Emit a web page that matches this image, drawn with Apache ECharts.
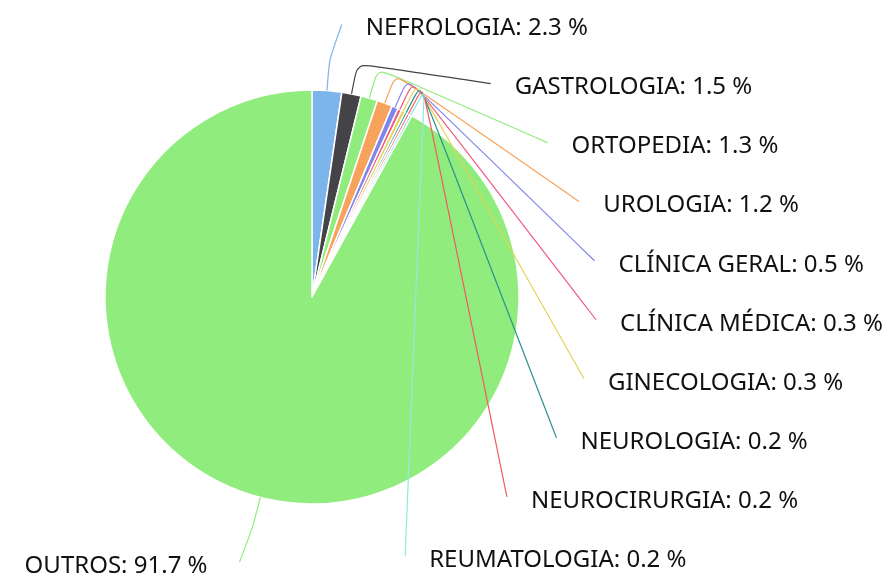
<!DOCTYPE html>
<html><head><meta charset="utf-8">
<script src="https://cdn.jsdelivr.net/npm/echarts@6/dist/echarts.min.js"></script>
<style>html,body{margin:0;padding:0;background:#fff}#chart{width:893px;height:576px}</style>
</head><body><div id="chart"></div>
<script>
const categories = ['NEFROLOGIA','GASTROLOGIA','ORTOPEDIA','UROLOGIA','CLÍNICA GERAL','CLÍNICA MÉDICA','GINECOLOGIA','NEUROLOGIA','NEUROCIRURGIA','REUMATOLOGIA','OUTROS'];
const values = [2.3, 1.5, 1.3, 1.2, 0.5, 0.3, 0.3, 0.2, 0.2, 0.2, 91.7];
const palette = ['#7cb5ec','#434348','#90ed7d','#f7a35c','#8085e9','#f15c80','#e4d354','#2b908f','#f45b5b','#91e8e1','#90ed7d'];

// layout constants
const CX = 312, CY = 297, R = 207;
const LABEL_A = 285, LABEL_B = 274, BREAK = 31;
const TOP_Y = 28.5, SLOT = 59.05, BOTTOM_Y = 566;
const GAP_R = 24, GAP_L = 32;

const total = values.reduce((a, b) => a + b, 0);
const mids = [];
let acc = 0;
values.forEach(v => { mids.push((acc + v / 2) / total * 2 * Math.PI); acc += v; });
const rightIdx = [], leftIdx = [];
mids.forEach((m, i) => (Math.sin(m) >= 0 ? rightIdx : leftIdx).push(i));
const textY = {};
rightIdx.forEach((i, k) => { textY[i] = TOP_Y + k * SLOT; });
leftIdx.forEach(i => { textY[i] = Math.min(BOTTOM_Y, CY - (LABEL_B + 4) * Math.cos(mids[i])); });

function labelLayout(p) {
  const i = p.dataIndex;
  const m = mids[i];
  const side = Math.sin(m) >= 0 ? 1 : -1;
  const ty = textY[i];
  const ey = ty - 4;
  const t = (ey - CY) / LABEL_B;
  const ex = CX + side * LABEL_A * Math.sqrt(Math.max(0, 1 - t * t));
  const touch = [CX + R * Math.sin(m), CY - R * Math.cos(m)];
  const brk = [CX + (R + BREAK) * Math.sin(m), CY - (R + BREAK) * Math.cos(m)];
  return {
    x: ex + (side > 0 ? GAP_R : -GAP_L),
    y: ty,
    align: side > 0 ? 'left' : 'right',
    verticalAlign: 'middle',
    hideOverlap: false,
    labelLinePoints: [touch, brk, [ex, ey]]
  };
}

const common = {
  type: 'pie',
  center: [CX, CY],
  radius: R,
  startAngle: 90,
  clockwise: true,
  avoidLabelOverlap: false,
  silent: true
};

const chart = echarts.init(document.getElementById('chart'), null, {renderer: 'canvas'});
chart.setOption({
  animation: false,
  backgroundColor: '#ffffff',
  series: [
    Object.assign({}, common, {
      z: 2,
      data: categories.map((c, i) => ({name: c, value: values[i], itemStyle: {color: palette[i]}})),
      itemStyle: {borderColor: '#ffffff', borderWidth: 1.5},
      label: {show: false},
      labelLine: {show: false}
    }),
    Object.assign({}, common, {
      z: 5,
      data: categories.map((c, i) => ({
        name: c, value: values[i],
        itemStyle: {color: 'rgba(0,0,0,0)'},
        labelLine: {lineStyle: {color: palette[i]}}
      })),
      itemStyle: {borderWidth: 0},
      label: {
        show: true,
        formatter: '{b}: {c} %',
        fontFamily: 'Noto Sans',
        fontSize: 24,
        color: '#111111'
      },
      labelLine: {show: true, smooth: 0.2, lineStyle: {width: 1.2, opacity: 1}},
      labelLayout: labelLayout
    })
  ]
});
</script>
</body></html>
